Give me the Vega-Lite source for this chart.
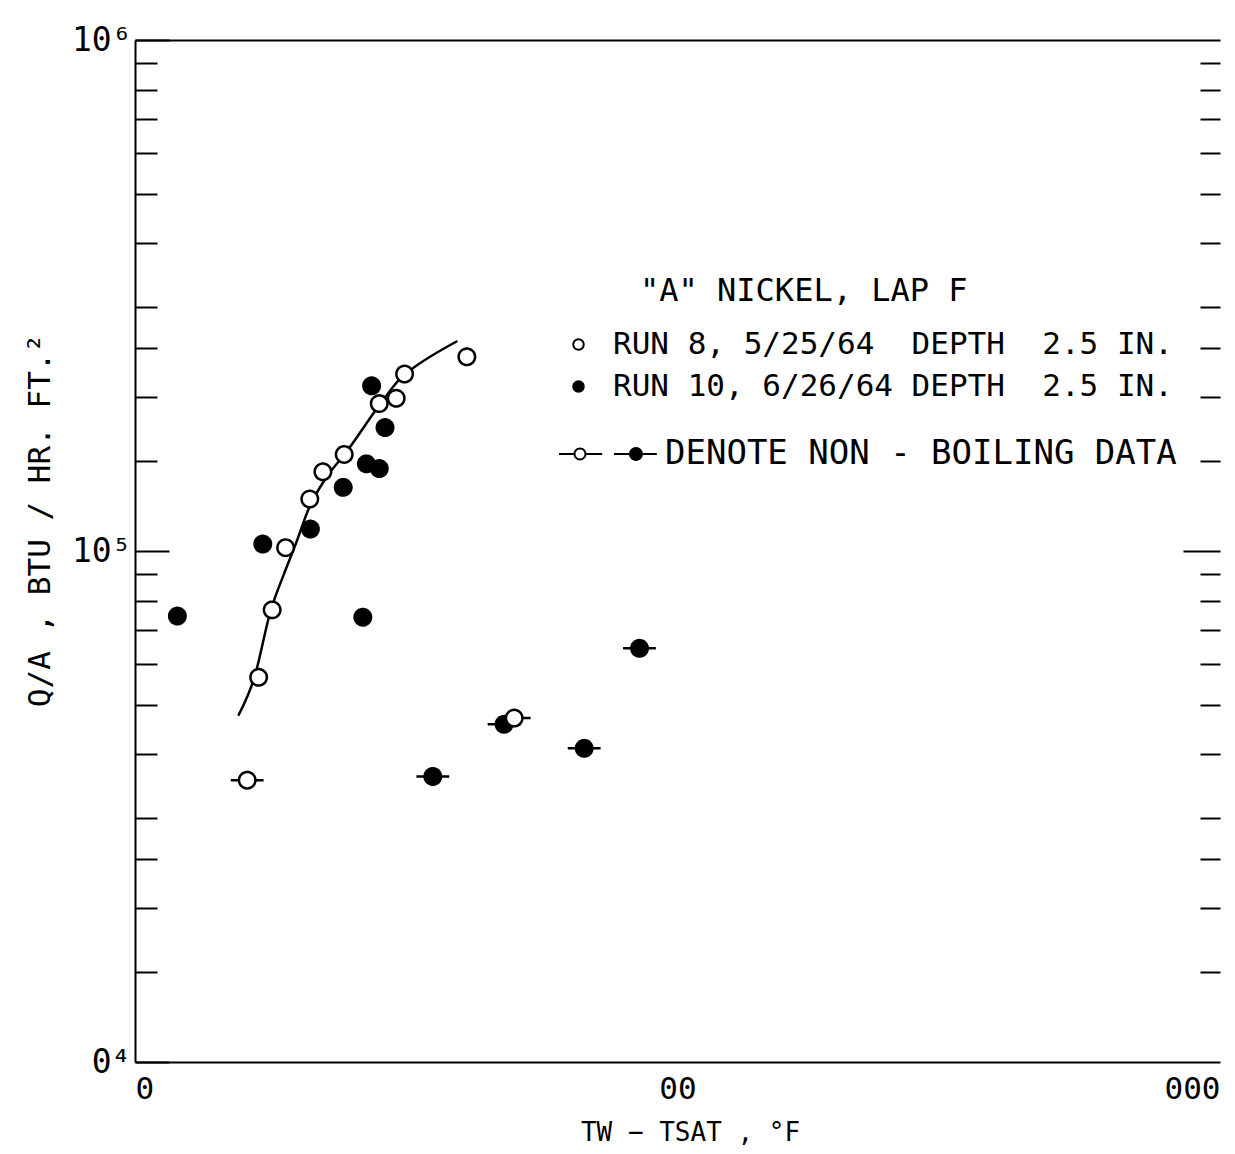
{
  "$schema": "https://vega.github.io/schema/vega-lite/v6.json",
  "autosize": {"type": "none"},
  "padding": {"left": 135, "top": 40, "right": 15, "bottom": 92},
  "width": 1085,
  "height": 1022,
  "background": "white",
  "title": {"text": "\"A\" NICKEL, LAP F", "anchor": "start", "frame": "group", "orient": "top", "offset": 0, "dx": 505, "dy": 299, "baseline": "middle", "fontSize": 32, "font": "DejaVu Sans Mono", "fontWeight": "normal", "color": "black"},
  "config": {
    "view": {"stroke": null},
    "font": "DejaVu Sans Mono",
    "axis": {"labelFont": "DejaVu Sans Mono", "titleFont": "DejaVu Sans Mono", "titleFontWeight": "normal", "labelColor": "black", "titleColor": "black", "grid": false, "labelOverlap": false, "labelBound": false},
    "legend": {"labelFont": "DejaVu Sans Mono", "titleFont": "DejaVu Sans Mono", "labelColor": "black", "titleColor": "black", "titleFontWeight": "normal"}
  },
  "datasets": {
    "pts": [
      {"dt": 16.9, "q": 56600, "run": "RUN 8", "type": "boiling"},
      {"dt": 17.9, "q": 76700, "run": "RUN 8", "type": "boiling"},
      {"dt": 18.95, "q": 101500, "run": "RUN 8", "type": "boiling"},
      {"dt": 21.0, "q": 126400, "run": "RUN 8", "type": "boiling"},
      {"dt": 22.2, "q": 142900, "run": "RUN 8", "type": "boiling"},
      {"dt": 24.3, "q": 154500, "run": "RUN 8", "type": "boiling"},
      {"dt": 28.2, "q": 194300, "run": "RUN 8", "type": "boiling"},
      {"dt": 30.3, "q": 199000, "run": "RUN 8", "type": "boiling"},
      {"dt": 31.4, "q": 222000, "run": "RUN 8", "type": "boiling"},
      {"dt": 40.9, "q": 239900, "run": "RUN 8", "type": "boiling"},
      {"dt": 11.97, "q": 74600, "run": "RUN 10", "type": "boiling"},
      {"dt": 17.2, "q": 103200, "run": "RUN 10", "type": "boiling"},
      {"dt": 21.05, "q": 110400, "run": "RUN 10", "type": "boiling"},
      {"dt": 24.2, "q": 133200, "run": "RUN 10", "type": "boiling"},
      {"dt": 26.7, "q": 148100, "run": "RUN 10", "type": "boiling"},
      {"dt": 28.2, "q": 145000, "run": "RUN 10", "type": "boiling"},
      {"dt": 28.9, "q": 174400, "run": "RUN 10", "type": "boiling"},
      {"dt": 27.3, "q": 210500, "run": "RUN 10", "type": "boiling"},
      {"dt": 26.3, "q": 74200, "run": "RUN 10", "type": "boiling"},
      {"dt": 35.4, "q": 36200, "run": "RUN 10", "type": "non-boiling"},
      {"dt": 47.9, "q": 45800, "run": "RUN 10", "type": "non-boiling"},
      {"dt": 67.3, "q": 41100, "run": "RUN 10", "type": "non-boiling"},
      {"dt": 85.1, "q": 64500, "run": "RUN 10", "type": "non-boiling"},
      {"dt": 16.1, "q": 35600, "run": "RUN 8", "type": "non-boiling"},
      {"dt": 50.0, "q": 47100, "run": "RUN 8", "type": "non-boiling"}
    ],
    "curve": [
      {"dt": 15.5, "q": 47600},
      {"dt": 16.6, "q": 56600},
      {"dt": 17.8, "q": 76650},
      {"dt": 18.8, "q": 89900},
      {"dt": 19.7, "q": 102000},
      {"dt": 21.0, "q": 122400},
      {"dt": 22.5, "q": 139000},
      {"dt": 24.5, "q": 156000},
      {"dt": 28.1, "q": 191700},
      {"dt": 31.0, "q": 219000},
      {"dt": 32.8, "q": 229300},
      {"dt": 39.3, "q": 257600}
    ]
  },
  "layer": [
    {
      "data": {"name": "curve"},
      "mark": {"type": "line", "color": "black", "strokeWidth": 2.5, "interpolate": "monotone"},
      "encoding": {
        "x": {"field": "dt", "type": "quantitative", "scale": {"type": "log", "domain": [10, 1000], "nice": false},
          "axis": {"orient": "bottom", "values": [10, 100, 1000], "ticks": false, "domainColor": "black", "domainWidth": 2,
            "labelExpr": "datum.value == 10 ? '0' : datum.value == 100 ? '00' : '000'",
            "labelFlush": true, "labelFontSize": 31, "labelPadding": 12,
            "title": "TW − TSAT , °F", "titleFontSize": 26, "titleX": 555, "titleY": 70, "titleAlign": "center", "titleBaseline": "middle"}},
        "y": {"field": "q", "type": "quantitative", "scale": {"type": "log", "domain": [10000, 1000000], "nice": false},
          "axis": {"orient": "left",
            "values": [10000, 15000, 20000, 25000, 30000, 40000, 50000, 60000, 70000, 80000, 90000, 100000, 150000, 200000, 250000, 300000, 400000, 500000, 600000, 700000, 800000, 900000, 1000000],
            "domainColor": "black", "domainWidth": 2, "tickColor": "black", "tickWidth": 2,
            "tickSize": {"condition": {"test": "datum.value == 10000 || datum.value == 100000 || datum.value == 1000000", "value": -34}, "value": -22},
            "labelExpr": "datum.value == 1000000 ? '10⁶' : datum.value == 100000 ? '10⁵' : datum.value == 10000 ? '0⁴' : ''",
            "labelFontSize": 33, "labelPadding": 38,
            "title": "Q/A ,\u00a0BTU / HR. FT.²", "titleFontSize": 31, "titleX": -95, "titleY": 480, "titleAngle": -90, "titleAlign": "center", "titleBaseline": "middle"}}
      }
    },
    {
      "data": {"name": "pts"},
      "mark": {"type": "point", "filled": true, "stroke": "black", "strokeWidth": 2.5, "size": 270, "opacity": 1},
      "encoding": {
        "x": {"field": "dt", "type": "quantitative", "scale": {"type": "log", "domain": [10, 1000], "nice": false},
          "axis": {"orient": "top", "ticks": false, "labels": false, "title": null, "domainColor": "black", "domainWidth": 2}},
        "y": {"field": "q", "type": "quantitative", "scale": {"type": "log", "domain": [10000, 1000000], "nice": false},
          "axis": {"orient": "right", "domain": false, "labels": false, "title": null,
            "values": [15000, 20000, 25000, 30000, 40000, 50000, 60000, 70000, 80000, 90000, 100000, 150000, 200000, 250000, 300000, 400000, 500000, 600000, 700000, 800000, 900000],
            "tickColor": "black", "tickWidth": 2,
            "tickSize": {"condition": {"test": "datum.value == 100000", "value": -37}, "value": -20}}},
        "fill": {"field": "run", "type": "nominal", "scale": {"domain": ["RUN 8", "RUN 10"], "range": ["white", "black"]},
          "legend": {"orient": "none", "legendX": 428, "legendY": 289, "title": null,
            "labelFontSize": 31, "labelOffset": 19, "labelLimit": 1000, "rowPadding": 10,
            "labelExpr": "datum.value == 'RUN 8' ? 'RUN 8, 5/25/64\u00a0\u00a0DEPTH\u00a0\u00a02.5 IN.' : 'RUN 10, 6/26/64\u00a0DEPTH\u00a0\u00a02.5 IN.'",
            "symbolType": "circle", "symbolSize": 110, "symbolStrokeColor": "black", "symbolStrokeWidth": 2, "symbolOpacity": 1}},
        "shape": {"field": "type", "type": "nominal", "legend": null,
          "scale": {"domain": ["boiling", "non-boiling"], "range": ["circle", "M -2 0 L -1 0 M 1 0 L 2 0 M -1 0 A 1 1 0 1 1 1 0 A 1 1 0 1 1 -1 0 Z"]}},
        "strokeDash": {"field": "type", "type": "nominal",
          "scale": {"domain": ["non-boiling", "boiling"], "range": [[1, 0], [1, 0]]},
          "legend": {"orient": "none", "legendX": 428, "legendY": 397, "title": null, "values": ["non-boiling"],
            "labelExpr": "'DENOTE\u00a0NON\u00a0-\u00a0BOILING\u00a0DATA'", "labelFontSize": 34, "labelOffset": 68, "labelLimit": 1000, "symbolSize": 144,
            "symbolType": "M 1.08 0 A 1.08 1.08 0 1 1 -1.08 0 A 1.08 1.08 0 1 1 1.08 0 Z M 0.75 0 A 0.75 0.75 0 1 0 -0.75 0 A 0.75 0.75 0 1 0 0.75 0 Z M -3.5 -0.17 L -1.08 -0.17 L -1.08 0.17 L -3.5 0.17 Z M 1.08 -0.17 L 3.7 -0.17 L 3.7 0.17 L 1.08 0.17 Z M 10.48 0 A 1.15 1.15 0 1 1 8.18 0 A 1.15 1.15 0 1 1 10.48 0 Z M 5.67 -0.17 L 8.18 -0.17 L 8.18 0.17 L 5.67 0.17 Z M 10.48 -0.17 L 12.8 -0.17 L 12.8 0.17 L 10.48 0.17 Z",
            "symbolFillColor": "black", "symbolStrokeColor": "black", "symbolStrokeWidth": 0, "symbolOpacity": 1}}
      }
    }
  ],
  "resolve": {"axis": {"x": "independent", "y": "independent"}}
}
